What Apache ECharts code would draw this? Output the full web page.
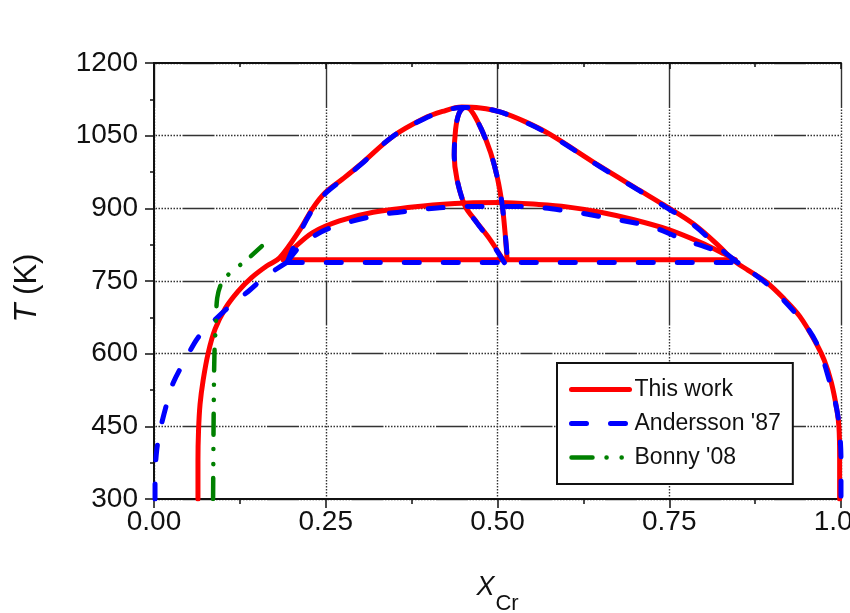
<!DOCTYPE html>
<html>
<head>
<meta charset="utf-8">
<title>Fe–Cr phase diagram</title>
<script src="https://cdn.jsdelivr.net/npm/echarts@6/dist/echarts.min.js"></script>
<style>
  html, body { margin: 0; padding: 0; background: #ffffff; }
  #chart { width: 850px; height: 613px; }
</style>
</head>
<body>
<div id="chart"></div>
<script>
// Composition axis (x_Cr) and temperature axis (K)
const xTicks = [0, 0.25, 0.5, 0.75, 1.0];
const tTicks = [300, 450, 600, 750, 900, 1050, 1200];

// ---- This work (red, solid) ----
// outer boundary: bcc solvus on the Fe side, over the sigma dome, down to the Cr side
const workOuter = [
  [0.064, 300], [0.064, 380], [0.0648, 440], [0.067, 495], [0.0715, 545], [0.079, 602],
  [0.089, 651], [0.104, 694], [0.122, 728], [0.142, 757], [0.164, 781], [0.183, 798],
  [0.2125, 856], [0.231, 900], [0.249, 932], [0.275, 961], [0.30, 990], [0.348, 1049],
  [0.392, 1085], [0.42, 1100], [0.448, 1109], [0.475, 1107], [0.5036, 1099], [0.54, 1079],
  [0.576, 1053], [0.649, 987], [0.707, 937], [0.742, 907], [0.785, 868], [0.824, 820],
  [0.843, 793], [0.865, 772], [0.892, 747], [0.918, 712], [0.940, 677], [0.962, 626],
  [0.976, 585], [0.986, 540], [0.994, 484], [0.997, 449], [0.998, 390], [0.998, 300]
];
// alpha + alpha' gap above the eutectoid
const workInner = [
  [0.188, 794], [0.205, 820], [0.231, 850], [0.27, 874], [0.319, 892], [0.392, 905],
  [0.456, 911], [0.504, 912], [0.56, 908], [0.601, 903], [0.65, 892], [0.697, 877],
  [0.747, 857], [0.795, 830], [0.830, 806], [0.846, 794]
];
const workEutectoid = [[0.188, 794], [0.846, 794]];
// sigma single-phase lens
const workSigma = [
  [0.508, 794], [0.489, 836], [0.470, 871], [0.453, 904], [0.441, 960], [0.437, 1010],
  [0.439, 1063], [0.444, 1096], [0.452, 1108], [0.461, 1103], [0.476, 1065], [0.490, 1015],
  [0.500, 962], [0.507, 905], [0.511, 850], [0.514, 794]
];

// ---- Andersson '87 (blue, dashed) ----
const anderssonLeft = [
  [0.0015, 300], [0.0015, 345], [0.004, 401], [0.009, 443], [0.019, 499], [0.028, 540],
  [0.048, 594], [0.064, 633], [0.086, 666], [0.108, 695], [0.140, 732], [0.162, 759],
  [0.194, 789]
];
const anderssonOuter = [
  [0.194, 789], [0.2125, 850], [0.231, 898], [0.249, 930], [0.275, 960], [0.30, 989],
  [0.348, 1049], [0.392, 1084], [0.42, 1100], [0.448, 1108], [0.475, 1107], [0.5036, 1099],
  [0.54, 1078], [0.576, 1052], [0.649, 986], [0.707, 936], [0.742, 905], [0.785, 866],
  [0.824, 817], [0.850, 788], [0.892, 744], [0.940, 673], [0.965, 620], [0.984, 540],
  [0.994, 484], [0.998, 440], [1.0, 380], [1.0, 300]
];
const anderssonInner = [
  [0.194, 789], [0.215, 825], [0.252, 857], [0.319, 884], [0.368, 894], [0.416, 901],
  [0.464, 904], [0.537, 904], [0.60, 895], [0.649, 883], [0.722, 863], [0.77, 836],
  [0.824, 809], [0.850, 788]
];
const anderssonEutectoid = [[0.194, 788], [0.850, 788]];
const anderssonSigma = [
  [0.510, 788], [0.489, 834], [0.470, 870], [0.453, 904], [0.441, 960], [0.437, 1010],
  [0.439, 1063], [0.444, 1096], [0.452, 1108], [0.461, 1103], [0.476, 1065], [0.490, 1015],
  [0.500, 962], [0.507, 905], [0.511, 850], [0.515, 788]
];

// ---- Bonny '08 (green, dash-dot-dot) ----
const bonnyBoundary = [
  [0.086, 300], [0.087, 500], [0.088, 600], [0.090, 660], [0.092, 715], [0.098, 745],
  [0.108, 763], [0.135, 794], [0.157, 822]
];

const legendNames = ['This work', "Andersson '87", "Bonny '08"];

const FONT = "'Liberation Sans', Arial, sans-serif";
const INK = '#111111';

// solid run followed by a dotted run, as on the plot grid
function gridDash(solid, dots) {
  const out = [solid, 1.5];
  for (let i = 0; i < dots; i++) out.push(1.5, 1.5);
  return out;
}
const hDash = gridDash(32, 17);            // horizontal grid lines
const vDash = gridDash(45, 57);            // vertical grid lines

const styles = {
  'This work': { color: '#ff0000', width: 5, type: 'solid', z: 2 },
  "Andersson '87": { color: '#0000ff', width: 5, type: [15, 24], z: 3 },
  "Bonny '08": { color: '#008000', width: 4.5, type: [21, 14, 0.1, 15, 0.1, 14], z: 4 }
};

function curve(name, data, smooth) {
  const s = styles[name];
  return {
    name: name,
    type: 'line',
    data: data,
    symbol: 'none',
    smooth: smooth,
    z: s.z,
    color: s.color,
    lineStyle: { color: s.color, width: s.width, type: s.type, cap: 'round', join: 'round' },
    animation: false
  };
}

const series = [
  curve('This work', workOuter, 0.35),
  curve('This work', workInner, 0.3),
  curve('This work', workEutectoid, false),
  curve('This work', workSigma, 0.3),
  curve("Andersson '87", anderssonLeft, 0.3),
  curve("Andersson '87", anderssonOuter, 0.35),
  curve("Andersson '87", anderssonInner, 0.3),
  curve("Andersson '87", anderssonEutectoid, false),
  curve("Andersson '87", anderssonSigma, 0.3),
  curve("Bonny '08", bonnyBoundary, 0.3)
];

const legendData = legendNames.map(name => ({
  name: name,
  itemStyle: { opacity: 0 },
  lineStyle: {
    color: styles[name].color, width: styles[name].width,
    type: styles[name].type, cap: 'round', opacity: 1
  }
}));

const frameLine = { show: true, lineStyle: { color: INK, width: 2 } };

const chart = echarts.init(document.getElementById('chart'), null, { renderer: 'canvas' });
chart.setOption({
  animation: false,
  backgroundColor: '#ffffff',
  grid: { left: 154, right: 9, top: 63, bottom: 114, containLabel: false, outerBoundsMode: 'none' },
  legend: {
    data: legendData,
    orient: 'vertical',
    left: 557,
    top: 363,
    itemWidth: 58,
    itemHeight: 14,
    itemGap: 11,
    padding: [15, 12, 15, 12],
    borderColor: INK,
    borderWidth: 2,
    backgroundColor: '#ffffff',
    selectedMode: false,
    textStyle: { fontFamily: FONT, fontSize: 23, color: INK }
  },
  xAxis: [
    {
      type: 'value', position: 'bottom',
      min: xTicks[0], max: xTicks[xTicks.length - 1], interval: xTicks[1] - xTicks[0],
      name: '{x|X}{s|Cr}',
      nameLocation: 'middle',
      nameGap: 75,
      nameTextStyle: {
        rich: {
          x: { fontFamily: FONT, fontSize: 27, fontStyle: 'italic', color: INK, verticalAlign: 'top', lineHeight: 30 },
          s: { fontFamily: FONT, fontSize: 22, color: INK, padding: [19, 0, 0, 1] }
        }
      },
      axisLine: frameLine,
      axisTick: { show: true, inside: false, length: 9, lineStyle: { color: INK, width: 1.5 } },
      minorTick: { show: true, splitNumber: 2, length: 5, lineStyle: { color: INK, width: 1.5 } },
      axisLabel: {
        fontFamily: FONT, fontSize: 28, color: INK, margin: 9,
        formatter: v => v.toFixed(2)
      },
      splitLine: { show: true, lineStyle: { color: '#333333', width: 1.4, type: vDash } }
    },
    {
      type: 'value', position: 'top',
      min: xTicks[0], max: xTicks[xTicks.length - 1], interval: xTicks[1] - xTicks[0],
      axisLine: frameLine,
      axisTick: { show: true, inside: true, length: 6, lineStyle: { color: INK, width: 1.5 } },
      minorTick: { show: true, splitNumber: 2, length: 4, lineStyle: { color: INK, width: 1.5 } },
      axisLabel: { show: false },
      splitLine: { show: false }
    }
  ],
  yAxis: [
    {
      type: 'value', position: 'left',
      min: tTicks[0], max: tTicks[tTicks.length - 1], interval: tTicks[1] - tTicks[0],
      name: '{t|T} (K)',
      nameLocation: 'middle',
      nameRotate: 90,
      nameGap: 111,
      nameTextStyle: {
        fontFamily: FONT, fontSize: 31, color: INK, padding: [0, 14, 0, 0],
        rich: { t: { fontFamily: FONT, fontSize: 31, fontStyle: 'italic', color: INK } }
      },
      axisLine: frameLine,
      axisTick: { show: true, inside: false, length: 9, lineStyle: { color: INK, width: 1.5 } },
      minorTick: { show: true, splitNumber: 2, length: 4, lineStyle: { color: INK, width: 1.5 } },
      axisLabel: { fontFamily: FONT, fontSize: 28, color: INK, margin: 16, formatter: v => String(v) },
      splitLine: { show: true, lineStyle: { color: '#333333', width: 1.4, type: hDash, dashOffset: 56 } }
    },
    {
      type: 'value', position: 'right',
      min: tTicks[0], max: tTicks[tTicks.length - 1], interval: tTicks[1] - tTicks[0],
      axisLine: frameLine,
      axisTick: { show: true, inside: true, length: 6, lineStyle: { color: INK, width: 1.5 } },
      minorTick: { show: true, splitNumber: 2, length: 4, lineStyle: { color: INK, width: 1.5 } },
      axisLabel: { show: false },
      splitLine: { show: false }
    }
  ],
  series: series
});
</script>
</body>
</html>
